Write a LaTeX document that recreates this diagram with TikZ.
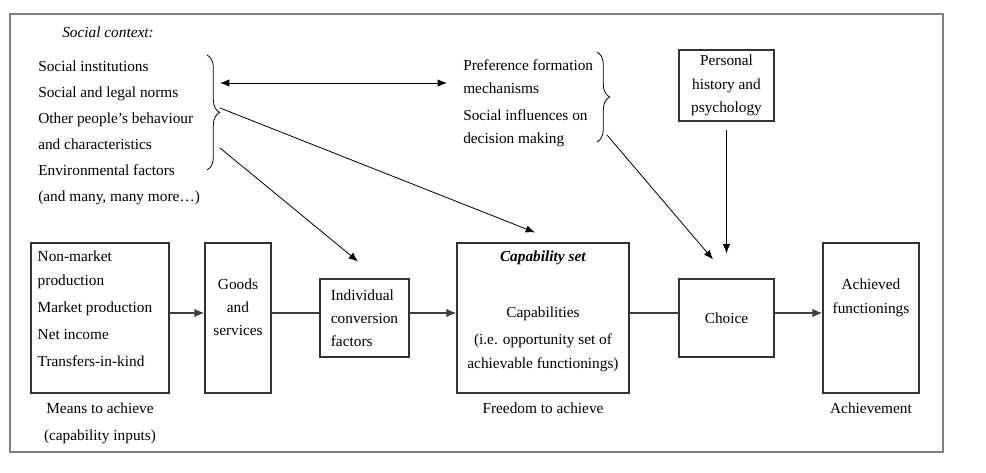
\documentclass[tikz,border=0pt]{standalone}
\usepackage{fontspec}
\setmainfont{Liberation Serif}
\usetikzlibrary{positioning,arrows.meta,decorations.pathreplacing}
\tikzset{>={Latex[length=7pt,width=5.5pt]}}

\begin{document}
\begin{tikzpicture}[x=0.75pt, y=-0.75pt,
    box/.style={draw=black!80, line width=0.8pt, inner sep=0pt},
    txt/.style={inner sep=0pt, font=\fontsize{11.5}{17.6}\selectfont},
    flow/.style={>={Latex[length=7.5pt,width=6.5pt]}, ->, black!75, line width=1.4pt},
    infl/.style={->, line width=0.6pt},
    curly/.style={decorate, decoration={brace, amplitude=9.5pt}, line width=0.6pt}]
  \useasboundingbox (0,0) rectangle (986,473);
  \draw[black!50, line width=1pt] (10,14) rectangle (943,452);

  \node[txt, anchor=west] (ctx) at (62,32) {\itshape Social context:};
  \node[txt, anchor=north west, align=left, font=\fontsize{11.5}{19.5}\selectfont] (social) at (38,60.5)
    {Social institutions\\Social and legal norms\\Other people's behaviour\\and characteristics\\Environmental factors\\(and many, many more…)};
  \draw[curly] (207,55) -- (207,170);
  \coordinate (ctxA) at (220,83);
  \coordinate (ctxB) at (220,108);
  \coordinate (ctxC) at (220,148);

  \node[txt, anchor=north west, align=left, font=\fontsize{11.5}{17.25}\selectfont] (pref) at (463,59.5)
    {Preference formation\\mechanisms\\[3pt]Social influences on\\decision making};
  \draw[curly] (597,52) -- (597,142);
  \coordinate (prefA) at (447,83);
  \coordinate (prefB) at (607,135);

  \node[box, txt, align=center, minimum width=71.25pt, minimum height=53.25pt] (personal) at (726.5,85.5)
    {Personal\\history and\\psychology};

  \node[box, minimum width=103.5pt, minimum height=112.5pt] (means) at (100,318) {};
  \node[txt, anchor=north west, align=left, font=\fontsize{11.5}{18}\selectfont] (meanstxt) at ([shift={(7,8.5)}]means.north west)
    {Non-market\\production\\[2.25pt]Market production\\[2.25pt]Net income\\[2.25pt]Transfers-in-kind};
  \node[box, minimum width=49.5pt, minimum height=112.5pt] (goods) at (238,318) {};
  \node[txt, anchor=north, align=center, font=\fontsize{11.5}{17}\selectfont] (goodstxt) at ([shift={(0,36.5)}]goods.north)
    {Goods\\and\\services};
  \node[box, txt, align=left, minimum width=66.75pt, minimum height=58.5pt, font=\fontsize{11.5}{17.25}\selectfont] (indiv) at (364.5,318)
    {Individual\\conversion\\factors};
  \node[box, minimum width=129pt, minimum height=112.5pt] (capab) at (543,318) {};
  \node[txt, anchor=north, align=center] (capabtxt) at ([shift={(0,8.5)}]capab.north)
    {\textbf{\textit{Capability set}}\\[24.4pt]Capabilities\\[2.6pt](i.e. opportunity set of\\achievable functionings)};
  \node[box, txt, minimum width=71.25pt, minimum height=58.5pt] (choice) at (726.5,318) {Choice};
  \node[box, minimum width=72pt, minimum height=112.5pt] (achieved) at (871,318) {};
  \node[txt, anchor=north, align=center] (achievedtxt) at ([shift={(0,36.5)}]achieved.north)
    {Achieved\\functionings};

  \node[txt, align=center, below=7.1pt of means, font=\fontsize{11.5}{20.25}\selectfont] (meanslbl)
    {Means to achieve\\(capability inputs)};
  \node[txt, below=7.1pt of capab] (capablbl) {Freedom to achieve};
  \node[txt, below=7.1pt of achieved] (achievedlbl) {Achievement};

  \path[flow] ([yshift=3.75pt]means.east) edge ([yshift=3.75pt]goods.west)
              ([yshift=3.75pt]indiv.east) edge ([yshift=3.75pt]capab.west)
              ([yshift=3.75pt]choice.east) edge ([yshift=3.75pt]achieved.west);
  \path[flow, -] ([yshift=3.75pt]goods.east) edge ([yshift=3.75pt]indiv.west)
                 ([yshift=3.75pt]capab.east) edge ([yshift=3.75pt]choice.west);
  \path[infl] (ctxA) edge[<->] (prefA)
              (ctxB) edge ([shift={(-8,-10)}]capab.north)
              (ctxC) edge ([shift={(-6.5,-17)}]indiv.north)
              (prefB) edge ([shift={(-13.5,-19)}]choice.north)
              (personal.south) edge[shorten <=6pt, shorten >=18.75pt] (choice.north);
\end{tikzpicture}
\end{document}
